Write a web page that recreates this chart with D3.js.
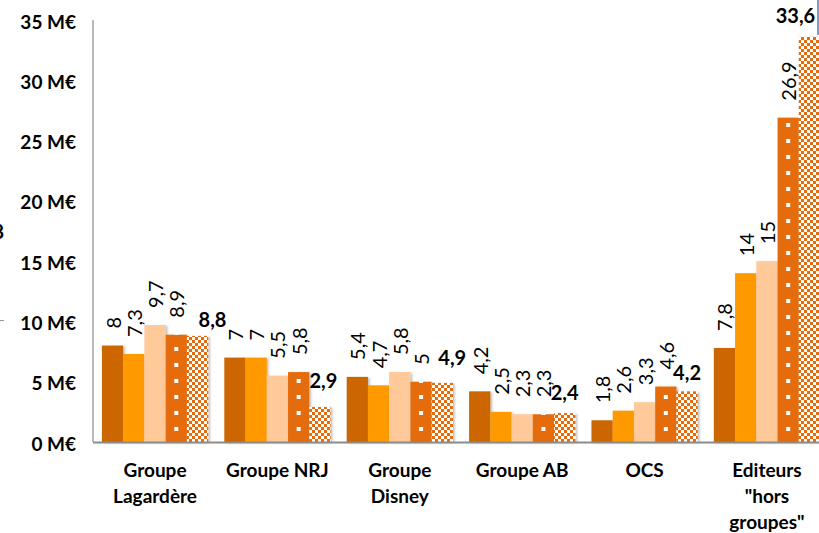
<!DOCTYPE html>
<html>
<head>
<meta charset="utf-8">
<script src="https://cdn.jsdelivr.net/npm/d3@7"></script>
<style>
  html, body { margin: 0; padding: 0; background: #fff; }
  svg { display: block; }
  text { font-family: Lato, "Open Sans", sans-serif; }
</style>
</head>
<body>
<svg id="chart" width="819" height="533"></svg>
<script>
// ---------------- data ----------------
const categories = ["Groupe\nLagardère", "Groupe NRJ", "Groupe\nDisney", "Groupe AB", "OCS", "Editeurs\n\"hors\ngroupes\""];
const seriesNames = ["Série 1", "Série 2", "Série 3", "Série 4", "Série 5"];
const serie1 = [8, 7, 5.4, 4.2, 1.8, 7.8];
const serie2 = [7.3, 7, 4.7, 2.5, 2.6, 14];
const serie3 = [9.7, 5.5, 5.8, 2.3, 3.3, 15];
const serie4 = [8.9, 5.8, 5, 2.3, 4.6, 26.9];
const serie5 = [8.8, 2.9, 4.9, 2.4, 4.2, 33.6];
const yTicks = [0, 5, 10, 15, 20, 25, 30, 35];
const yTickLabels = ["0 M€", "5 M€", "10 M€", "15 M€", "20 M€", "25 M€", "30 M€", "35 M€"];

// ---------------- layout / style ----------------
const W = 819, H = 533;
const plot = { left: 93, right: 829, top: 20, bottom: 442 };
const colors = ["#CC6600", "#FF9900", "#FFC999", "#E46C0A", "#E46C0A"];
// label nudges for last series [dx, dy] relative to bar centre / bar top
const boldNudge = [[15, -17], [3.5, -27.5], [10, -25.5], [0, -21.5], [0, -19.5], [-14, -22]];

const allSeries = [serie1, serie2, serie3, serie4, serie5];
const fmt = v => String(v).replace(".", ",");

const svg = d3.select("#chart");
const defs = svg.append("defs");

// shadow
const f = defs.append("filter").attr("id", "shadow").attr("x", "-20%").attr("y", "-5%").attr("width", "150%").attr("height", "115%");
f.append("feDropShadow").attr("dx", 1.6).attr("dy", 1).attr("stdDeviation", 1).attr("flood-color", "#000").attr("flood-opacity", 0.28);

// checkerboard pattern
const chk = defs.append("pattern").attr("id", "checker").attr("patternUnits", "userSpaceOnUse")
  .attr("width", 6).attr("height", 6).attr("x", 0).attr("y", plot.bottom);
chk.append("rect").attr("width", 6).attr("height", 6).attr("fill", "#fff");
chk.append("rect").attr("width", 3).attr("height", 3).attr("fill", colors[4]);
chk.append("rect").attr("x", 3).attr("y", 3).attr("width", 3).attr("height", 3).attr("fill", colors[4]);

const x = d3.scaleBand().domain(categories).range([plot.left, plot.right]).paddingInner(0.132).paddingOuter(0.073);
const xs = d3.scaleBand().domain(seriesNames).range([0, x.bandwidth()]).padding(0);
const y = d3.scaleLinear().domain([0, 35]).range([plot.bottom, plot.top]);

// per-bar dotted patterns for series 4
categories.forEach((c, i) => {
  const cx = x(c) + xs(seriesNames[3]) + xs.bandwidth() / 2;
  const p = defs.append("pattern").attr("id", "dots" + i).attr("patternUnits", "userSpaceOnUse")
    .attr("width", 16).attr("height", 16).attr("x", cx - 8).attr("y", plot.bottom);
  p.append("rect").attr("width", 16).attr("height", 16).attr("fill", colors[3]);
  p.append("rect").attr("x", 6).attr("y", 1).attr("width", 4).attr("height", 4).attr("fill", "#fff");
});

// bars
const gBars = svg.append("g");
allSeries.forEach((vals, s) => {
  gBars.selectAll(null).data(vals).enter().append("rect")
    .attr("x", (d, i) => x(categories[i]) + xs(seriesNames[s]))
    .attr("y", d => y(d))
    .attr("width", xs.bandwidth())
    .attr("height", d => y(0) - y(d))
    .attr("fill", (d, i) => s === 3 ? `url(#dots${i})` : s === 4 ? "url(#checker)" : colors[s])
    .attr("filter", "url(#shadow)");
});

// axes lines
svg.append("line").attr("x1", plot.left).attr("x2", plot.left).attr("y1", plot.top).attr("y2", plot.bottom)
  .attr("stroke", "#8c8c8c").attr("stroke-width", 1.2);
svg.append("line").attr("x1", plot.left).attr("x2", W).attr("y1", plot.bottom + 0.5).attr("y2", plot.bottom + 0.5)
  .attr("stroke", "#8c8c8c").attr("stroke-width", 2);

// y tick labels
svg.append("g").selectAll("text").data(yTicks).enter().append("text")
  .attr("x", 76).attr("y", d => y(d) + 1)
  .attr("text-anchor", "end").attr("dominant-baseline", "central")
  .attr("font-size", 19).attr("font-weight", "bold").attr("fill", "#000")
  .text((d, i) => yTickLabels[i]);

// category labels
const gCat = svg.append("g");
categories.forEach(c => {
  const t = gCat.append("text").attr("text-anchor", "middle").attr("font-size", 19).attr("font-weight", "bold").attr("fill", "#000");
  c.split("\n").forEach((line, k) => {
    t.append("tspan").attr("x", x(c) + x.bandwidth() / 2).attr("y", 477 + k * 26).text(line);
  });
});

// value labels series 1-4 (rotated)
const gLab = svg.append("g");
allSeries.slice(0, 4).forEach((vals, s) => {
  vals.forEach((v, i) => {
    const cx = x(categories[i]) + xs(seriesNames[s]) + xs.bandwidth() / 2;
    const ty = y(v) - 17;
    gLab.append("text")
      .attr("transform", `translate(${cx},${ty}) rotate(-90)`)
      .attr("text-anchor", "start").attr("dominant-baseline", "central")
      .attr("font-size", 20).attr("fill", "#000")
      .text(fmt(v));
  });
});
// series 5 labels (bold)
serie5.forEach((v, i) => {
  const cx = x(categories[i]) + xs(seriesNames[4]) + xs.bandwidth() / 2;
  gLab.append("text")
    .attr("x", cx + boldNudge[i][0]).attr("y", y(v) + boldNudge[i][1])
    .attr("text-anchor", "middle").attr("dominant-baseline", "central")
    .attr("font-size", 20).attr("font-weight", "bold").attr("fill", "#000")
    .text(fmt(v));
});

// cropped fragments at the edges of the original picture
svg.append("text").attr("x", 4).attr("y", 239).attr("text-anchor", "end")
  .attr("font-size", 20).attr("font-weight", "bold").attr("fill", "#000").text("8");
svg.append("line").attr("x1", 0).attr("x2", 4).attr("y1", 320.5).attr("y2", 320.5).attr("stroke", "#999").attr("stroke-width", 1);
svg.append("line").attr("x1", 818).attr("x2", 818).attr("y1", 0).attr("y2", 35).attr("stroke", "#4A7EBB").attr("stroke-width", 1.5);
</script>
</body>
</html>
